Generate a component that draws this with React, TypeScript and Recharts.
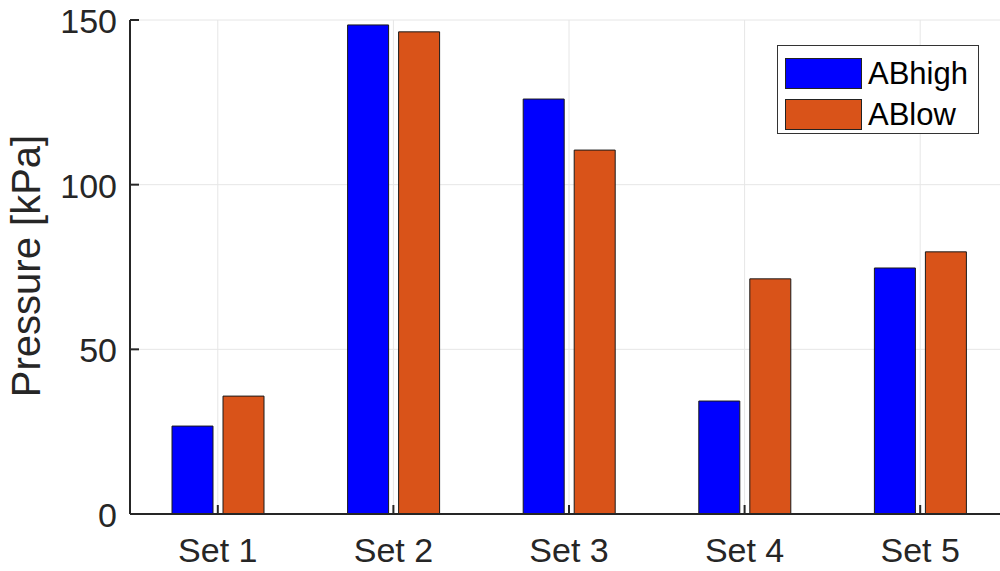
import React from "react";
import { BarChart, Bar, XAxis, YAxis, CartesianGrid } from "recharts";

const SETS = ["Set 1", "Set 2", "Set 3", "Set 4", "Set 5"];
const AB_HIGH = [26.7, 148.5, 126, 34.3, 74.7];
const AB_LOW = [35.8, 146.4, 110.5, 71.4, 79.6];
const Y_TICKS = [0, 50, 100, 150];

const data = SETS.map((s, i) => ({ set: s, ABhigh: AB_HIGH[i], ABlow: AB_LOW[i] }));

const FONT = '"Liberation Sans", Arial, Helvetica, sans-serif';
const INK = "#262626";
const BLUE = "#0000ff";
const ORANGE = "#d95319";

const SERIES = [
  { key: "ABhigh", color: BLUE },
  { key: "ABlow", color: ORANGE },
];

// plot box edges (follow from chart margins + axis sizes below)
const TOP = 20;
const BOTTOM = 514;
const LEFT = 130;
const TICK = 9;

function XTick({ x, payload }: any) {
  return (
    <g>
      <line x1={x} y1={BOTTOM} x2={x} y2={BOTTOM - TICK} stroke={INK} strokeWidth={2} />
      <text x={x} y={562} textAnchor="middle" fontFamily={FONT} fontSize={34} fill={INK}>
        {payload.value}
      </text>
    </g>
  );
}

function TopTick({ x }: any) {
  return <line x1={x} y1={TOP} x2={x} y2={TOP + TICK} stroke={INK} strokeWidth={2} />;
}

function YTick({ y, payload }: any) {
  return (
    <g>
      <line x1={LEFT} y1={y} x2={LEFT + TICK} y2={y} stroke={INK} strokeWidth={2} />
      <text x={117} y={y + 13} textAnchor="end" fontFamily={FONT} fontSize={34} fill={INK}>
        {payload.value}
      </text>
    </g>
  );
}

function YLabel() {
  return (
    <text
      x={40}
      y={266}
      transform="rotate(-90, 40, 266)"
      textAnchor="middle"
      fontFamily={FONT}
      fontSize={40}
      fill={INK}
    >
      Pressure [kPa]
    </text>
  );
}

function LegendBox() {
  return (
    <div
      style={{
        position: "absolute",
        left: 777,
        top: 45,
        width: 202,
        height: 89,
        border: "1px solid #333",
        background: "#fff",
        fontFamily: FONT,
        fontSize: 31,
        color: "#000",
        boxSizing: "border-box",
        paddingTop: 7,
        paddingLeft: 7,
      }}
    >
      {SERIES.map((s) => (
        <div key={s.key} style={{ display: "flex", alignItems: "center", height: 41 }}>
          <div
            style={{
              width: 77,
              height: 31,
              background: s.color,
              border: "1px solid #222",
              boxSizing: "border-box",
              marginRight: 6,
            }}
          />
          <span>{s.key}</span>
        </div>
      ))}
    </div>
  );
}

export default function App() {
  return (
    <div
      style={{
        position: "absolute",
        left: 0,
        top: 0,
        width: 1000,
        height: 571,
        overflow: "hidden",
        background: "#fff",
      }}
    >
      <BarChart
        width={1010}
        height={571}
        data={data}
        margin={{ top: TOP, right: 2, bottom: 0, left: 0 }}
        barCategoryGap={42}
        barGap={10}
      >
        <CartesianGrid stroke="#e6e6e6" strokeWidth={1} />
        {SERIES.map((s) => (
          <Bar
            key={s.key}
            dataKey={s.key}
            fill={s.color}
            stroke="#1a1a1a"
            strokeWidth={1}
            isAnimationActive={false}
          />
        ))}
        <XAxis
          dataKey="set"
          height={571 - BOTTOM}
          tick={<XTick />}
          tickLine={false}
          axisLine={{ stroke: INK, strokeWidth: 2 }}
        />
        <XAxis
          xAxisId="top"
          orientation="top"
          dataKey="set"
          height={0}
          tick={<TopTick />}
          tickLine={false}
          axisLine={{ stroke: INK, strokeWidth: 2 }}
        />
        <YAxis
          width={LEFT}
          domain={[0, 150]}
          ticks={Y_TICKS}
          interval={0}
          tick={<YTick />}
          tickLine={false}
          axisLine={{ stroke: INK, strokeWidth: 2 }}
          label={{ content: <YLabel /> }}
        />
        <YAxis
          yAxisId="right"
          orientation="right"
          width={0}
          domain={[0, 150]}
          ticks={Y_TICKS}
          tick={false}
          tickLine={false}
          axisLine={{ stroke: INK, strokeWidth: 2 }}
        />
      </BarChart>
      <LegendBox />
    </div>
  );
}
